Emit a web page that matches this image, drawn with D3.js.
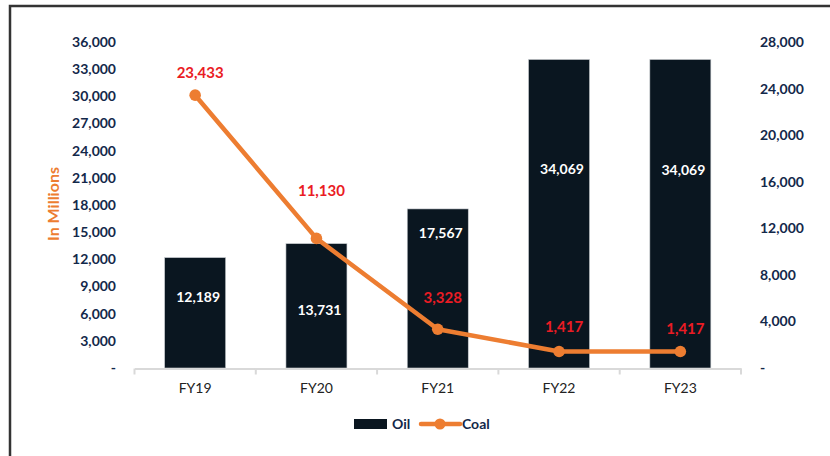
<!DOCTYPE html>
<html>
<head>
<meta charset="utf-8">
<script src="https://cdn.jsdelivr.net/npm/d3@7/dist/d3.min.js"></script>
<style>
  html, body { margin: 0; padding: 0; background: #fff; }
  svg { display: block; font-family: Lato, "Open Sans", sans-serif; }
</style>
</head>
<body>
<svg id="chart" width="830" height="456"></svg>
<script>
// Fiscal years and the two series (in millions)
const categories = ["FY19", "FY20", "FY21", "FY22", "FY23"];
const oilValues  = [12189, 13731, 17567, 34069, 34069];
const coalValues = [23433, 11130, 3328, 1417, 1417];

// Axis tick values
const leftTicks  = [0, 3000, 6000, 9000, 12000, 15000, 18000, 21000, 24000, 27000, 30000, 33000, 36000];
const rightTicks = [0, 4000, 8000, 12000, 16000, 20000, 24000, 28000];

// Hand-placed label offsets (pixels)
const oilLabelDrop  = [39, 66, 24, 110, 111];
const coalLabelRise = [22, 48, 32, 25, 23];

const COLORS = {
  bar: "#0a1620",
  coal: "#ed7d31",
  coalLabel: "#ea1c24",
  tick: "#13284a",
  axis: "#d9d9d9",
  frame: "#333333"
};

const svg = d3.select("#chart");
const fmt = d3.format(",");
const tickFmt = v => v === 0 ? "-" : fmt(v);

const x = d3.scaleBand().domain(categories).range([134.5, 741]).paddingInner(0).paddingOuter(0);
const yL = d3.scaleLinear().domain([0, 36000]).range([368, 42]);
const yR = d3.scaleLinear().domain([0, 28000]).range([368, 42]);
const barW = 61;

// Outer frame (left and top edges visible)
svg.append("rect")
  .attr("x", 10).attr("y", 6).attr("width", 900).attr("height", 600)
  .attr("fill", "none").attr("stroke", COLORS.frame).attr("stroke-width", 2.5);

// Left axis
const leftAxis = svg.append("g").attr("transform", "translate(121,0)")
  .call(d3.axisLeft(yL).tickValues(leftTicks).tickFormat(tickFmt).tickSize(0).tickPadding(5));
leftAxis.select(".domain").remove();
leftAxis.selectAll("text")
  .attr("font-family", "Lato, sans-serif").attr("font-weight", 700)
  .attr("font-size", 14).attr("fill", COLORS.tick);

// Right axis
const rightAxis = svg.append("g").attr("transform", "translate(755,0)")
  .call(d3.axisRight(yR).tickValues(rightTicks).tickFormat(tickFmt).tickSize(0).tickPadding(5));
rightAxis.select(".domain").remove();
rightAxis.selectAll("text")
  .attr("font-family", "Lato, sans-serif").attr("font-weight", 700)
  .attr("font-size", 14).attr("fill", COLORS.tick);

// Y axis title
svg.append("text")
  .attr("transform", "translate(59,204) rotate(-90)")
  .attr("text-anchor", "middle")
  .attr("font-weight", 700).attr("font-size", 16)
  .attr("fill", COLORS.coal)
  .text("In Millions");

// Oil bars
svg.append("g").selectAll("rect")
  .data(categories)
  .join("rect")
  .attr("x", (c) => x(c) + x.bandwidth() / 2 - barW / 2)
  .attr("width", barW)
  .attr("y", (c, i) => yL(oilValues[i]))
  .attr("height", (c, i) => yL(0) - yL(oilValues[i]))
  .attr("fill", COLORS.bar)
  .attr("stroke", "#c8ccd0").attr("stroke-width", 0.6);

// Category axis
const xAxis = svg.append("g").attr("transform", "translate(0,368.5)")
  .call(d3.axisBottom(x).tickSize(0).tickPadding(15));
xAxis.select(".domain").attr("stroke", COLORS.axis).attr("stroke-width", 2);
xAxis.selectAll("text")
  .attr("font-family", "Lato, sans-serif").attr("font-size", 14).attr("fill", "#222");
// Category boundary ticks
const bounds = categories.map(c => x(c)).concat([x(categories[categories.length - 1]) + x.bandwidth()]);
svg.append("g").selectAll("line")
  .data(bounds)
  .join("line")
  .attr("x1", d => d).attr("x2", d => d)
  .attr("y1", 368.5).attr("y2", 374.5)
  .attr("stroke", COLORS.axis).attr("stroke-width", 2);

// Oil value labels
svg.append("g").selectAll("text")
  .data(categories)
  .join("text")
  .attr("x", c => x(c) + x.bandwidth() / 2 + 3)
  .attr("y", (c, i) => yL(oilValues[i]) + oilLabelDrop[i])
  .attr("dy", "0.35em")
  .attr("text-anchor", "middle")
  .attr("font-weight", 700).attr("font-size", 14)
  .attr("fill", "#ffffff")
  .text((c, i) => fmt(oilValues[i]));

// Coal line
const cx = c => x(c) + x.bandwidth() / 2;
const line = d3.line().x((d, i) => cx(categories[i])).y(d => yR(d));
svg.append("path")
  .datum(coalValues)
  .attr("d", line)
  .attr("fill", "none")
  .attr("stroke", COLORS.coal)
  .attr("stroke-width", 4.5)
  .attr("stroke-linejoin", "round");

svg.append("g").selectAll("circle")
  .data(coalValues)
  .join("circle")
  .attr("cx", (d, i) => cx(categories[i]))
  .attr("cy", d => yR(d))
  .attr("r", 5.8)
  .attr("fill", COLORS.coal);

// Coal value labels
svg.append("g").selectAll("text")
  .data(coalValues)
  .join("text")
  .attr("x", (d, i) => cx(categories[i]) + 5)
  .attr("y", (d, i) => yR(d) - coalLabelRise[i])
  .attr("dy", "0.35em")
  .attr("text-anchor", "middle")
  .attr("font-weight", 700).attr("font-size", 15)
  .attr("fill", COLORS.coalLabel)
  .text(d => fmt(d));

// Legend
const legend = svg.append("g");
legend.append("rect")
  .attr("x", 354).attr("y", 419).attr("width", 33).attr("height", 10)
  .attr("fill", COLORS.bar);
legend.append("text")
  .attr("x", 392).attr("y", 424).attr("dy", "0.35em")
  .attr("font-weight", 700).attr("font-size", 14).attr("fill", COLORS.tick)
  .text("Oil");
legend.append("line")
  .attr("x1", 421).attr("x2", 460).attr("y1", 424).attr("y2", 424)
  .attr("stroke", COLORS.coal).attr("stroke-width", 4.5).attr("stroke-linecap", "round");
legend.append("circle")
  .attr("cx", 440).attr("cy", 424).attr("r", 5.5).attr("fill", COLORS.coal);
legend.append("text")
  .attr("x", 462).attr("y", 424).attr("dy", "0.35em")
  .attr("font-weight", 700).attr("font-size", 14).attr("fill", COLORS.tick)
  .text("Coal");
</script>
</body>
</html>
